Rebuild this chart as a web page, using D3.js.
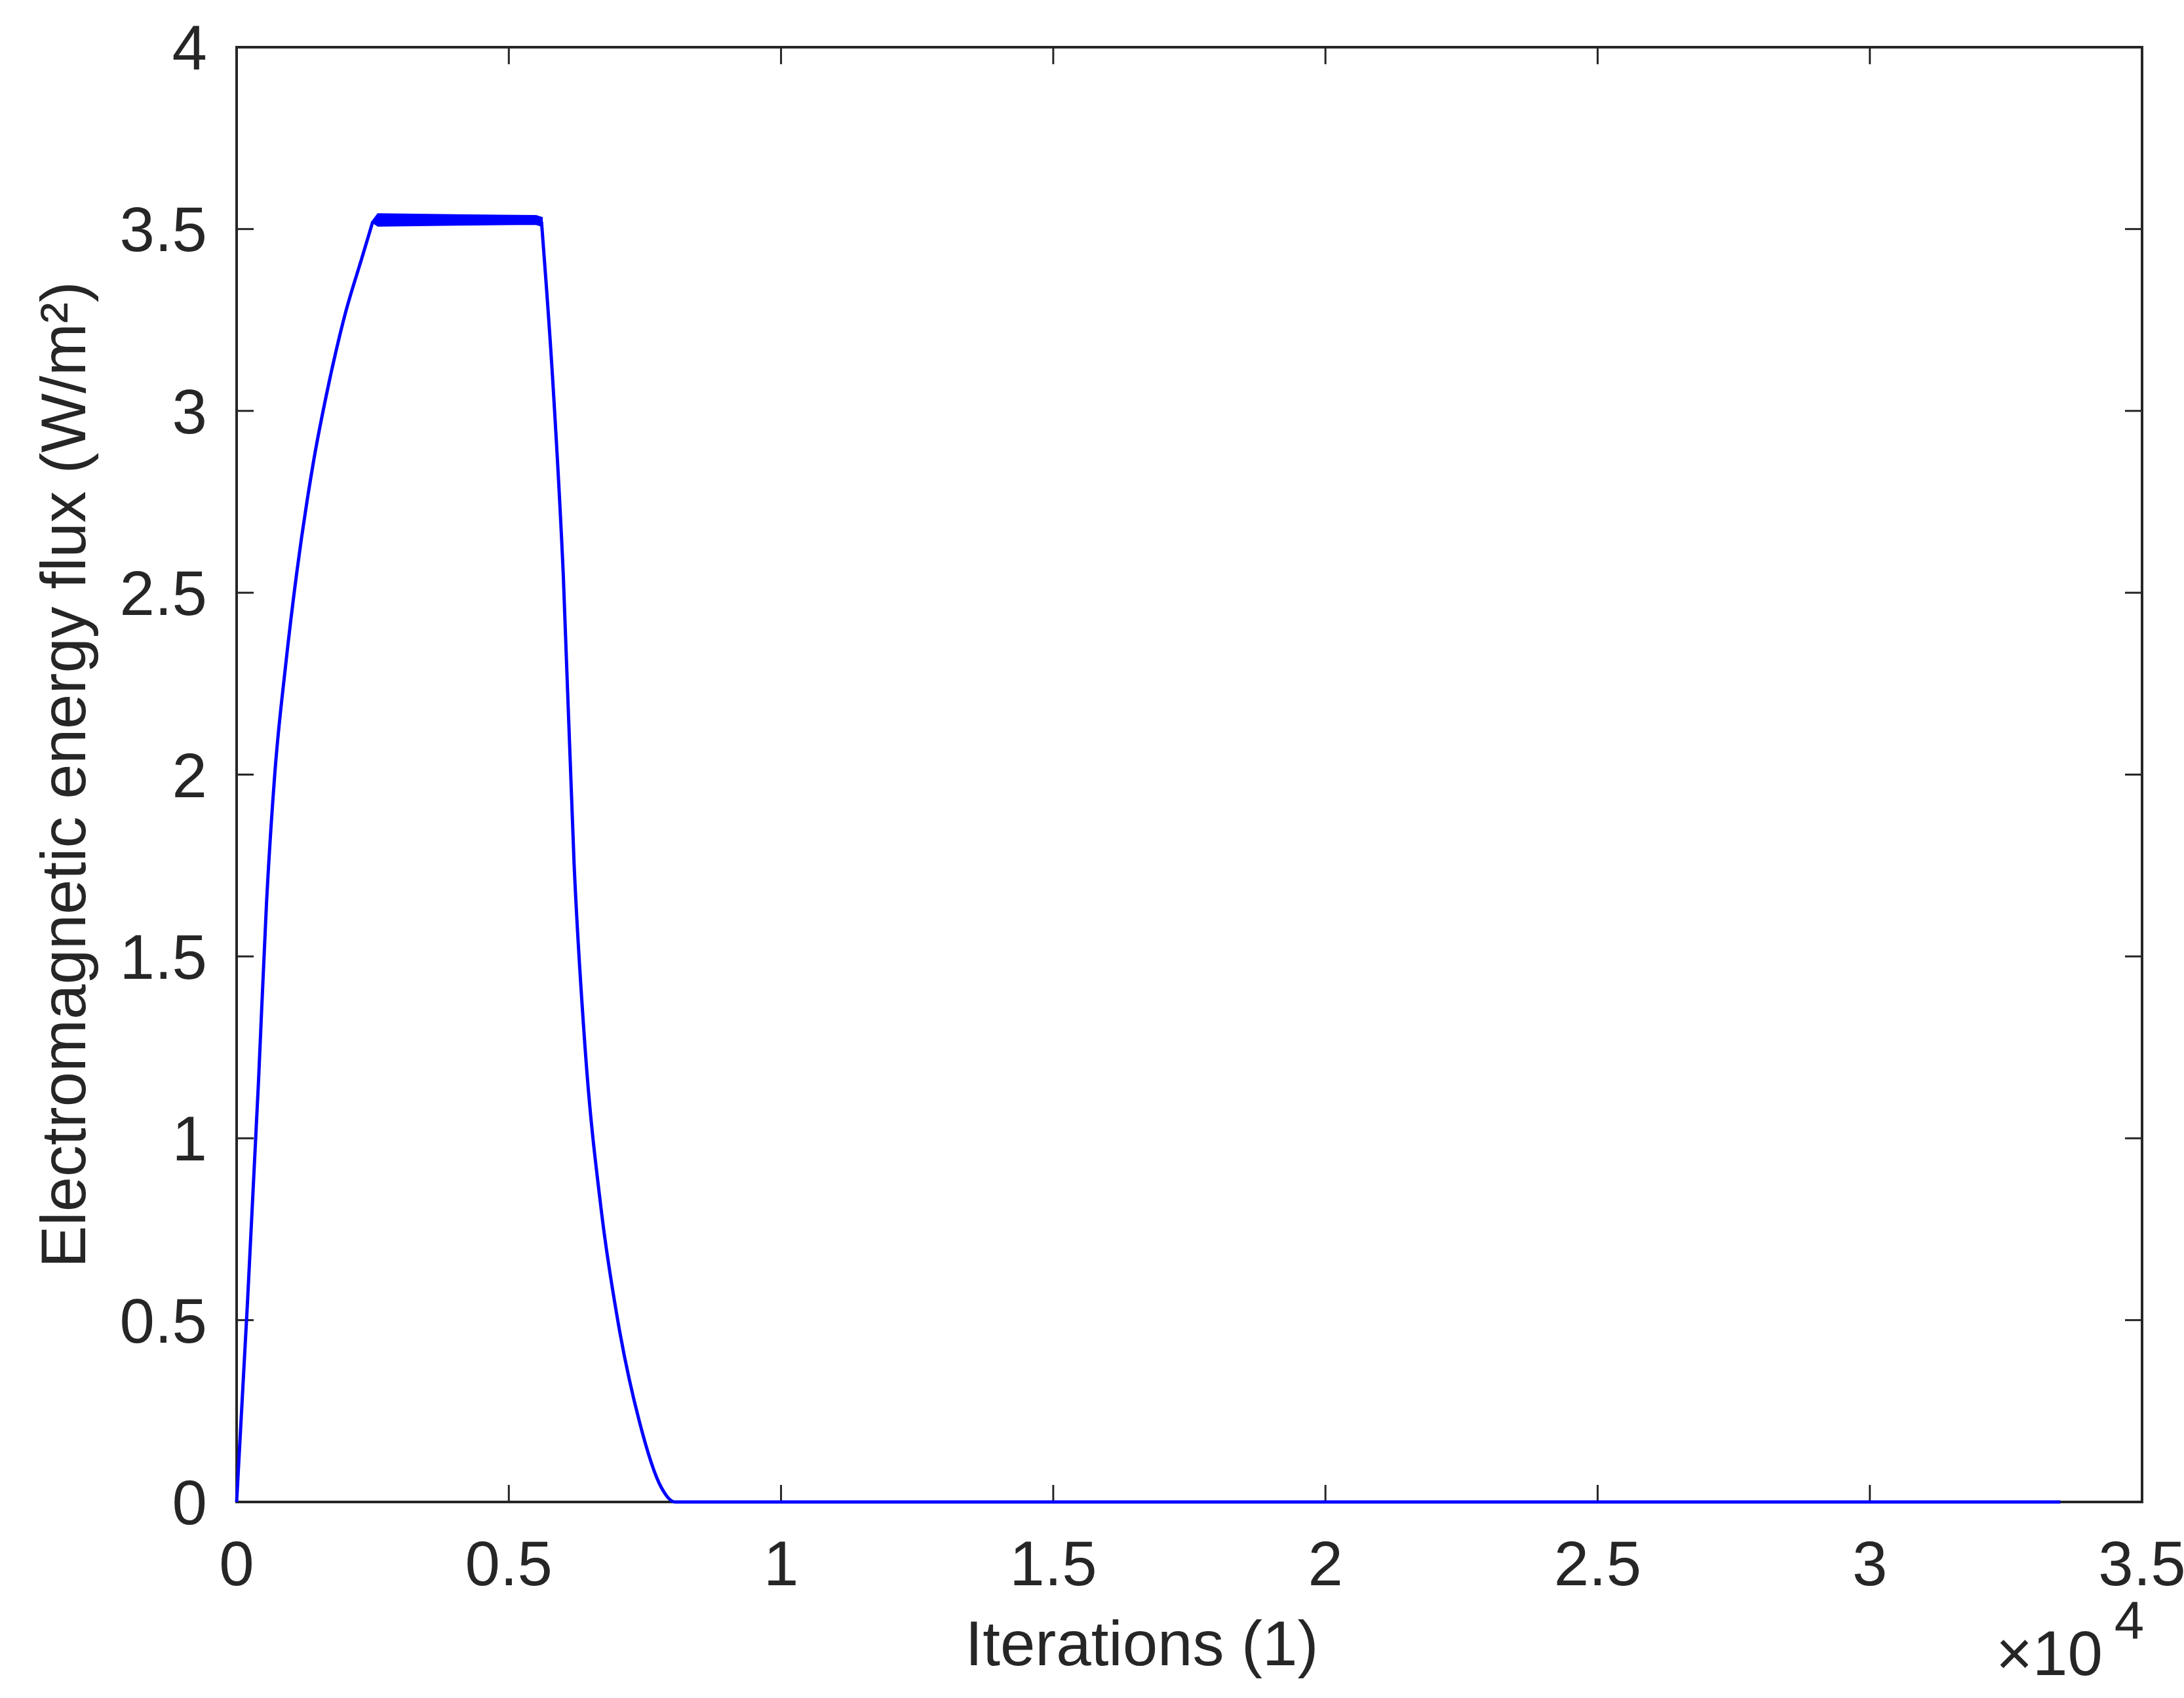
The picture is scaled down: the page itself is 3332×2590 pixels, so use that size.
<!DOCTYPE html>
<html><head><meta charset="utf-8">
<script src="https://cdn.jsdelivr.net/npm/d3@7"></script>
<style>body{margin:0;background:#fff}text{font-family:"Liberation Sans",Arial,sans-serif;fill:#262626}</style>
</head><body>
<svg id="c" width="3332" height="2590"></svg>
<script>
const xTicks=[0,0.5,1,1.5,2,2.5,3,3.5];
const yTicks=[0,0.5,1,1.5,2,2.5,3,3.5,4];
const xTickLabels=["0","0.5","1","1.5","2","2.5","3","3.5"];
const yTickLabels=["0","0.5","1","1.5","2","2.5","3","3.5","4"];
// x in units of 1e4 iterations
const riseX=[0,0.02,0.04,0.055,0.07,0.09,0.11,0.14,0.17,0.2,0.23,0.25];
const riseY=[0,0.55,1.15,1.65,2.0,2.3,2.55,2.85,3.08,3.27,3.42,3.52];
const plateauX=[0.25,0.26,0.4,0.55,0.56];
const plateauHi=[3.52,3.54,3.537,3.535,3.53];
const plateauLo=[3.52,3.51,3.513,3.515,3.51];
const fallX=[0.56,0.58,0.6,0.62,0.64,0.67,0.7,0.74,0.78,0.805,3.35];
const fallY=[3.52,3.1,2.55,1.75,1.25,0.8,0.5,0.22,0.04,0,0];

const svg=d3.select("#c");
const L=361,R=3268,T=72,B=2291;
const x=d3.scaleLinear().domain([0,3.5]).range([L,R]);
const y=d3.scaleLinear().domain([0,4]).range([B,T]);
const ink="#262626", fs=96, tk=26;

svg.append("rect").attr("x",L).attr("y",T).attr("width",R-L).attr("height",B-T).attr("fill","none").attr("stroke",ink).attr("stroke-width",4);
const gx=svg.append("g");
xTicks.forEach((v,i)=>{
  gx.append("line").attr("x1",x(v)).attr("x2",x(v)).attr("y1",B).attr("y2",B-tk).attr("stroke",ink).attr("stroke-width",3);
  gx.append("line").attr("x1",x(v)).attr("x2",x(v)).attr("y1",T).attr("y2",T+tk).attr("stroke",ink).attr("stroke-width",3);
  gx.append("text").attr("x",x(v)).attr("y",2418).attr("text-anchor","middle").attr("font-size",fs).text(xTickLabels[i]);
});
yTicks.forEach((v,i)=>{
  gx.append("line").attr("x1",L).attr("x2",L+tk).attr("y1",y(v)).attr("y2",y(v)).attr("stroke",ink).attr("stroke-width",3);
  gx.append("line").attr("x1",R).attr("x2",R-tk).attr("y1",y(v)).attr("y2",y(v)).attr("stroke",ink).attr("stroke-width",3);
  gx.append("text").attr("x",L-45).attr("y",y(v)+34).attr("text-anchor","end").attr("font-size",fs).text(yTickLabels[i]);
});

const line=d3.line().curve(d3.curveMonotoneX).x(d=>x(d[0])).y(d=>y(d[1]));
const blue="#0000ff";
svg.append("path").attr("d",line(riseX.map((v,i)=>[v,riseY[i]]))).attr("fill","none").attr("stroke",blue).attr("stroke-width",5);
svg.append("path").attr("d",d3.area().x(d=>x(d[0])).y0(d=>y(d[2])).y1(d=>y(d[1]))(plateauX.map((v,i)=>[v,plateauHi[i],plateauLo[i]]))).attr("fill",blue).attr("stroke",blue).attr("stroke-width",4);
svg.append("path").attr("d",line(fallX.map((v,i)=>[v,fallY[i]]))).attr("fill","none").attr("stroke",blue).attr("stroke-width",5);

svg.append("text").attr("x",1742).attr("y",2540).attr("text-anchor","middle").attr("font-size",fs).text("Iterations (1)");
svg.append("text").attr("transform",`translate(130,${(T+B)/2}) rotate(-90)`).attr("text-anchor","middle").attr("font-size",fs).text("Electromagnetic energy flux (W/m²)");
const m=svg.append("text").attr("x",3045).attr("y",2555).attr("font-size",fs);
m.append("tspan").text("×10");
m.append("tspan").attr("dy",-55).attr("dx",18).attr("font-size",fs*0.85).text("4");
</script>
</body></html>
